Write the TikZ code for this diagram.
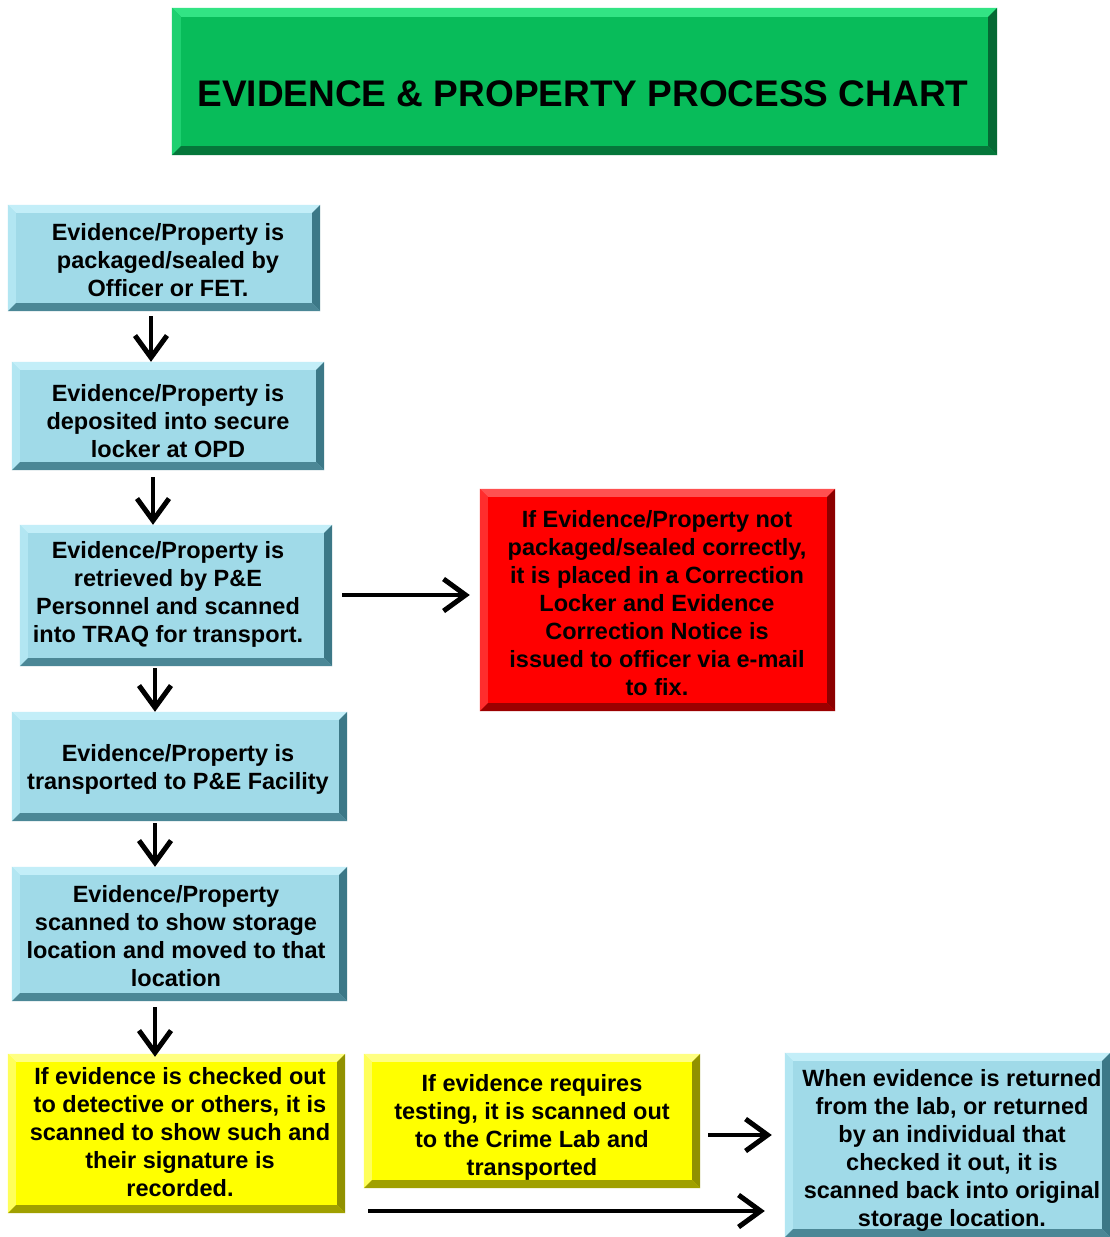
\documentclass[tikz,border=0pt]{standalone}
\usepackage{fontspec}
\setmainfont{Liberation Sans}
\usetikzlibrary{arrows.meta}
\definecolor{bface}{RGB}{160,218,232}
\definecolor{btop}{RGB}{195,238,248}
\definecolor{bleft}{RGB}{178,230,242}
\definecolor{bright}{RGB}{60,120,135}
\definecolor{bbot}{RGB}{75,135,150}
\definecolor{gface}{RGB}{8,188,90}
\definecolor{gtop}{RGB}{50,228,132}
\definecolor{gleft}{RGB}{30,208,112}
\definecolor{gright}{RGB}{5,105,52}
\definecolor{gbot}{RGB}{5,118,58}
\definecolor{rface}{RGB}{255,0,0}
\definecolor{rtop}{RGB}{255,80,80}
\definecolor{rleft}{RGB}{255,45,45}
\definecolor{rright}{RGB}{140,0,0}
\definecolor{rbot}{RGB}{155,0,0}
\definecolor{yface}{RGB}{255,255,0}
\definecolor{ytop}{RGB}{255,255,130}
\definecolor{yleft}{RGB}{255,255,90}
\definecolor{yright}{RGB}{145,145,0}
\definecolor{ybot}{RGB}{160,160,0}
\newcommand{\mybevel}[6]{%
 \fill[#2] (#1.north west) -- (#1.north east) -- ([xshift=-#6,yshift=-#6]#1.north east) -- ([xshift=#6,yshift=-#6]#1.north west) -- cycle;
 \fill[#3] (#1.north west) -- ([xshift=#6,yshift=-#6]#1.north west) -- ([xshift=#6,yshift=#6]#1.south west) -- (#1.south west) -- cycle;
 \fill[#4] (#1.north east) -- ([xshift=-#6,yshift=-#6]#1.north east) -- ([xshift=-#6,yshift=#6]#1.south east) -- (#1.south east) -- cycle;
 \fill[#5] (#1.south west) -- ([xshift=#6,yshift=#6]#1.south west) -- ([xshift=-#6,yshift=#6]#1.south east) -- (#1.south east) -- cycle;
}
\tikzset{
 box/.style={inner sep=0pt, align=center, font=\bfseries\fontsize{23.5}{28}\selectfont},
 blue/.style={box, fill=bface},
 conn/.style={line width=4.5pt, -{Straight Barb[length=22pt,width=32pt,line width=5pt]}}
}
\begin{document}
\begin{tikzpicture}[x=1pt,y=-1pt]
\useasboundingbox (0,0) rectangle (1110,1237);
\fill[white] (0,0) rectangle (1110,1237);
% title
\node[box, fill=gface, minimum width=825pt, minimum height=147pt] (title) at (584.5,81.5) {};
\mybevel{title}{gtop}{gleft}{gright}{gbot}{9pt}
\node[box, font=\bfseries\fontsize{37}{44}\selectfont] (ttext) at (583,94) {EVIDENCE \& PROPERTY PROCESS CHART};
% blue steps
\node[blue, minimum width=312pt, minimum height=106pt] (b1) at (164,258) {};
\node[blue, minimum width=312pt, minimum height=108pt] (b2) at (168,416) {};
\node[blue, minimum width=312pt, minimum height=141pt] (b3) at (176,595.5) {};
\node[blue, minimum width=335pt, minimum height=109pt] (b4) at (179.5,766.5) {};
\node[blue, minimum width=335pt, minimum height=134pt] (b5) at (179.5,934) {};
\node[box, fill=rface, minimum width=355pt, minimum height=222pt] (red) at (657.5,600) {};
\node[box, fill=yface, minimum width=337pt, minimum height=159pt] (y1) at (176.5,1133.5) {};
\node[box, fill=yface, minimum width=336pt, minimum height=134pt] (y2) at (532,1121) {};
\node[blue, minimum width=325pt, minimum height=184pt] (bl) at (947.5,1145) {};
\foreach \n in {b1,b2,b3,b4,b5,bl}{\mybevel{\n}{btop}{bleft}{bright}{bbot}{8pt}}
\mybevel{red}{rtop}{rleft}{rright}{rbot}{8pt}
\mybevel{y1}{ytop}{yleft}{yright}{ybot}{8pt}
\mybevel{y2}{ytop}{yleft}{yright}{ybot}{8pt}
% texts
\node[box] (t1) at (168,260.5) {Evidence/Property is\\packaged/sealed by\\Officer or FET.};
\node[box] (t2) at (168,421.5) {Evidence/Property is\\deposited into secure\\locker at OPD};
\node[box] (t3) at (168,594.5) {Evidence/Property is\\retrieved by P\&E\\Personnel and scanned\\into TRAQ for transport.};
\node[box] (t4) at (178,769.5) {Evidence/Property is\\transported to P\&E Facility};
\node[box] (t5) at (176,936) {Evidence/Property\\scanned to show storage\\location and moved to that\\location};
\node[box] (tr) at (657,603) {If Evidence/Property not\\packaged/sealed correctly,\\it is placed in a Correction\\Locker and Evidence\\Correction Notice is\\issued to officer via e-mail\\to fix.};
\node[box] (ty1) at (180,1132.5) {If evidence is checked out\\to detective or others, it is\\scanned to show such and\\their signature is\\recorded.};
\node[box] (ty2) at (532,1127) {If evidence requires\\testing, it is scanned out\\to the Crime Lab and\\transported};
\node[box] (tbl) at (952,1150) {When evidence is returned\\from the lab, or returned\\by an individual that\\checked it out, it is\\scanned back into original\\storage location.};
% connectors
\coordinate (s1) at (151,316);
\coordinate (s2) at (153,477);
\coordinate (s3) at (342,595);
\coordinate (s4) at (155,668);
\coordinate (s5) at (155,823);
\coordinate (s6) at (155,1007);
\coordinate (s7) at (708,1135);
\coordinate (s8) at (368,1211);
\draw[conn] (s1) -- (s1 |- b2.north);
\draw[conn] (s2) -- (s2 |- b3.north);
\draw[conn] (s3) -- ([xshift=-10pt]s3 -| red.west);
\draw[conn] (s4) -- (s4 |- b4.north);
\draw[conn] (s5) -- (s5 |- b5.north);
\draw[conn] (s6) -- ([yshift=-3pt]s6 |- y1.north);
\draw[conn] (s7) -- ([xshift=-13pt]s7 -| bl.west);
\draw[conn] (s8) -- ([xshift=-20pt]s8 -| bl.west);
\end{tikzpicture}
\end{document}
